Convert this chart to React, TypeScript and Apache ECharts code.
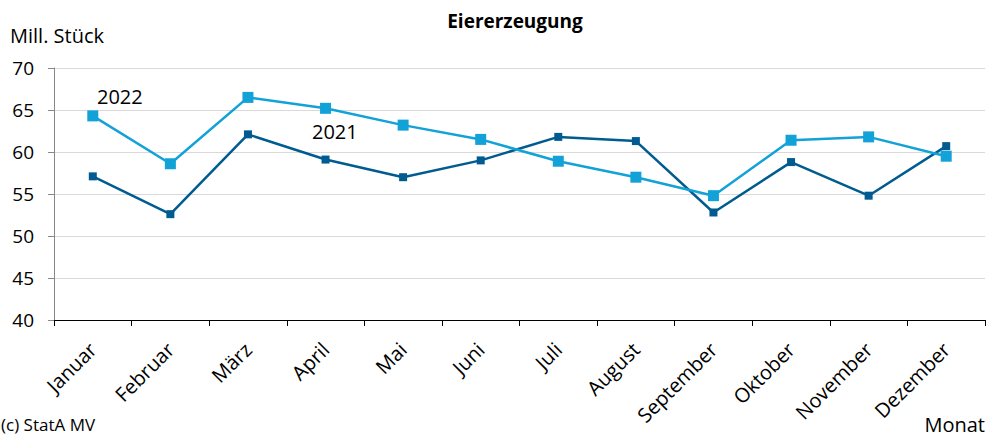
import React, { useEffect, useRef } from "react";
import * as echarts from "echarts";

const months = ["Januar", "Februar", "März", "April", "Mai", "Juni", "Juli", "August", "September", "Oktober", "November", "Dezember"];
const values2021 = [57.1, 52.6, 62.1, 59.1, 57.0, 59.0, 61.8, 61.3, 52.8, 58.8, 54.8, 60.7];
const values2022 = [64.3, 58.6, 66.5, 65.2, 63.2, 61.5, 58.9, 57.0, 54.8, 61.4, 61.8, 59.5];
const yTicks = { min: 40, max: 70, interval: 5 };

const FONT = "Open Sans";

export default function App() {
  const ref = useRef<HTMLDivElement>(null);
  useEffect(() => {
    document.body.style.margin = "0";
    const chart = echarts.init(ref.current!, null, { renderer: "svg" });
    chart.setOption({
      animation: false,
      backgroundColor: "#ffffff",
      textStyle: { fontFamily: FONT },
      title: {
        text: "Eiererzeugung",
        left: 510,
        textAlign: "center",
        top: 6,
        textStyle: { fontFamily: FONT, fontSize: 19, fontWeight: "bold", color: "#000" },
      },
      grid: { left: 54, right: 6, top: 68, bottom: 118 },
      xAxis: {
        type: "category",
        data: months,
        boundaryGap: true,
        axisLine: { lineStyle: { color: "#000", width: 1 } },
        axisTick: { show: true, length: 6, lineStyle: { color: "#000" } },
        axisLabel: { rotate: 45, fontSize: 20, color: "#000", margin: 26, fontFamily: FONT },
        name: "Monat",
        nameLocation: "end",
        nameGap: 0,
        nameTextStyle: { fontSize: 20, color: "#000", align: "right", verticalAlign: "top", padding: [94, 0, 0, 0] },
      },
      yAxis: {
        type: "value",
        min: yTicks.min,
        max: yTicks.max,
        interval: yTicks.interval,
        axisLine: { show: true, lineStyle: { color: "#888" } },
        axisTick: { show: true, length: 6, lineStyle: { color: "#888" } },
        axisLabel: { fontSize: 19, color: "#000", margin: 20, fontFamily: FONT },
        splitLine: { lineStyle: { color: "#d9d9d9", width: 1 } },
        name: "Mill. Stück",
        nameLocation: "end",
        nameGap: 0,
        nameTextStyle: { fontSize: 20, color: "#000", align: "left", padding: [0, 0, 23, -44] },
      },
      series: [
        {
          name: "2021",
          type: "line",
          data: values2021,
          symbol: "rect",
          symbolSize: 8,
          lineStyle: { color: "#005c90", width: 2.5 },
          itemStyle: { color: "#005c90" },
          z: 2,
        },
        {
          name: "2022",
          type: "line",
          data: values2022,
          symbol: "rect",
          symbolSize: 11,
          lineStyle: { color: "#12a2d8", width: 2.5 },
          itemStyle: { color: "#12a2d8" },
          z: 3,
        },
      ],
      graphic: [
        { type: "text", left: 97, top: 86, style: { text: "2022", fontSize: 20, fill: "#000", fontFamily: FONT } },
        { type: "text", left: 312, top: 121, style: { text: "2021", fontSize: 20, fill: "#000", fontFamily: FONT } },
        { type: "text", left: 1, top: 416, style: { text: "(c) StatA MV", fontSize: 17, fill: "#000", fontFamily: FONT } },
      ],
    });
    return () => chart.dispose();
  }, []);
  return <div ref={ref} style={{ width: 991, height: 438 }} />;
}
